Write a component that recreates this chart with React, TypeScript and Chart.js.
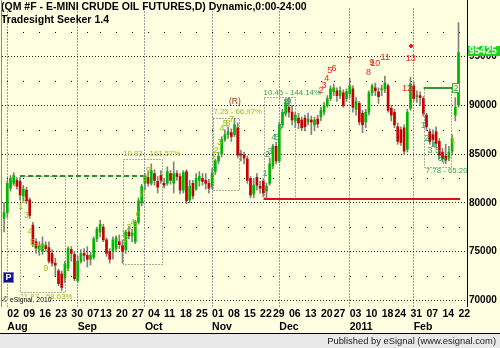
import React, { useEffect, useRef } from 'react';
import { Chart, registerables } from 'chart.js';

Chart.register(...registerables);

// ---------- data (prices in 1/1000 $, as shown on the axis) ----------
const FIRST_INDEX = -1; // first candle is one trading day before "02 Aug"

const opens = [
  78400, 79000, 81500, 82000, 82300, 82200, 80700, 81300, 80300, 77700, 76000,
  75200, 75000, 75600, 75400, 74800, 73800, 73000, 72700, 72300, 73300,
  75200, 74700, 72000, 74000, 74800, 74600, 74200, 74400, 76300, 77000,
  77500, 76200, 75000, 75000, 75300, 76000, 75600, 75200, 77000, 76600,
  76000, 78000, 80000, 82000, 82600, 82000, 83000, 82200, 82800, 82000,
  82000, 83000, 82000, 83000, 82700, 81300, 83200, 80300, 82000, 81400,
  82300, 82500, 82300, 82000, 81700, 83200, 84300, 85000, 86500, 87000,
  87200, 87000, 87700, 85000, 84900, 84500, 82500, 80900, 82600, 81700,
  82200, 81200, 82000, 83800, 85800, 84300, 88000, 89200, 89800, 89300,
  88400, 88700, 88500, 88700, 88300, 88500, 88000, 88600, 88800, 89300,
  90000, 90700, 91400, 91500, 91000, 91300, 90700, 91200, 91700, 89600,
  90200, 89200, 88300, 89300, 91300, 91800, 91400, 91600, 91700, 92000,
  89700, 89300, 87800, 87500, 87700, 85500, 89700, 92000, 90900, 91000,
  90700, 89000, 87300, 87000, 87300, 86300, 85200, 84800, 84600, 85300,
  89000, 90000,
];
const highs = [
  80000, 82300, 82800, 83100, 82600, 82600, 81800, 81600, 80500, 78000, 76300,
  76000, 76500, 76000, 76000, 75200, 74300, 73200, 73000, 74000, 75500,
  75500, 75000, 74500, 75200, 75300, 75500, 74900, 76500, 77500, 78200,
  77800, 76400, 75300, 76500, 76600, 76700, 76200, 77200, 77600, 77300,
  78200, 80500, 81900, 83000, 83200, 84000, 83400, 82700, 83300, 82500,
  83700, 83300, 84200, 83300, 83000, 83300, 83400, 82300, 82300, 83000,
  83200, 83000, 83000, 82400, 83500, 84500, 85200, 86800, 87500, 87800,
  87600, 88700, 88200, 85400, 85200, 84800, 82700, 82500, 83000, 82200,
  82500, 82000, 84600, 86000, 86200, 88300, 89600, 90700, 90800, 90000,
  89300, 89200, 88800, 89000, 89200, 88900, 88800, 89000, 89800, 90300,
  91000, 92000, 92200, 91800, 91900, 91600, 91700, 92800, 92000, 90800,
  90400, 89500, 89600, 91500, 92200, 92300, 91800, 92100, 93000, 92200,
  90000, 89600, 88200, 87800, 88000, 89600, 92900, 92400, 91500, 91400,
  90900, 89200, 87600, 87500, 87800, 86600, 85600, 86000, 85800, 87000,
  90800, 98500,
];
const lows = [
  77000, 78500, 81200, 81800, 81400, 80300, 80200, 79900, 78400, 75500, 74800,
  74600, 74700, 75000, 73800, 73500, 72500, 71500, 71000, 71800, 73000,
  74000, 72000, 71800, 73800, 74000, 73400, 73600, 74200, 76000, 76500,
  76000, 74500, 73800, 74200, 75000, 75300, 73800, 74800, 76300, 76000,
  75800, 77800, 79700, 81300, 81700, 81800, 81800, 81000, 82000, 81500,
  81800, 81900, 81000, 82300, 80900, 81000, 79900, 80000, 80400, 81300,
  81700, 81800, 81400, 81000, 81400, 82900, 84000, 84700, 86300, 86600,
  86300, 86800, 84600, 84300, 84000, 82000, 80500, 80500, 81300, 81000,
  80600, 80500, 81800, 83500, 84000, 84100, 87700, 88900, 88800, 88000,
  87700, 87600, 87400, 87400, 88000, 87000, 87400, 87700, 88400, 89000,
  89800, 90500, 91000, 90400, 90700, 89800, 90400, 90800, 89300, 89000,
  88000, 87200, 87700, 89000, 91000, 91000, 90200, 91000, 91300, 89300,
  88400, 87700, 86000, 85900, 85000, 85200, 89500, 90400, 90300, 90000,
  88900, 87400, 86000, 85800, 85800, 84500, 84200, 84000, 84300, 85000,
  88400, 89800,
];
const closes = [
  79000, 82000, 82500, 82800, 81700, 80800, 81400, 80200, 78700, 75800, 75300,
  75600, 75700, 75300, 74000, 73800, 73600, 71700, 71300, 73700, 75300,
  74800, 72200, 74000, 74800, 74600, 74200, 74600, 76300, 77300, 77800,
  76200, 74800, 74200, 76200, 76400, 75700, 75000, 77000, 76600, 76900,
  78000, 80200, 81700, 82700, 82000, 83300, 82300, 81600, 82300, 81800,
  83200, 82300, 83000, 82700, 81300, 83100, 80200, 81700, 80700, 82500,
  82700, 82200, 82000, 81500, 83000, 84300, 84800, 86500, 87000, 87300,
  86800, 88000, 84900, 84900, 84600, 82300, 80800, 81800, 81800, 81500,
  81000, 81700, 84000, 85800, 84300, 88000, 89300, 90200, 89300, 88500,
  89000, 88200, 87700, 87800, 88600, 88300, 88500, 88100, 89500, 90000,
  90700, 91700, 91800, 91000, 91500, 90000, 91400, 92000, 89800, 90400,
  88300, 88000, 89300, 91300, 92000, 91500, 90900, 91700, 92300, 89500,
  89000, 88000, 86300, 86200, 85300, 89300, 92200, 90700, 91000, 90800,
  89200, 87800, 86300, 86500, 86100, 84900, 84500, 84400, 85200, 86600,
  89800, 95425,
];

const weekTickIndex = [0, 5, 10, 15, 20, 25, 29, 34, 39, 44, 49, 54, 59, 64, 69, 74, 79, 83, 88, 93, 98, 102, 107, 112, 117, 121, 126, 131, 136, 141];
const weekTickLabels = ['02', '09', '16', '23', '30', '07', '13', '20', '27', '04', '11', '18', '25', '01', '08', '15', '22', '29', '06', '13', '20', '27', '03', '10', '18', '24', '31', '07', '14', '22'];
const monthTickIndex = [0, 22, 43, 64, 85, 107, 127];
const monthTickLabels = ['Aug', 'Sep', 'Oct', 'Nov', 'Dec', '2011', 'Feb'];
const priceTicks = [70000, 75000, 80000, 85000, 90000, 95000];
const minorPriceLevels = [72500, 77500, 82500, 87500, 92500, 97500];
const lastPrice = 95425;

// Seeker annotations: [dayIndex, price, text]
const setupLabelsLime: [number, number, string][] = [
  [4.2, 79600, '1'], [5.2, 80200, '2'], [6, 78700, '3'], [7.1, 77000, '4'], [7.9, 75900, '5'],
  [9, 75500, '6'], [10, 75270, '7'], [11, 75500, '8'], [12, 73300, '9'],
  [36.3, 76830, '1'], [37.1, 76270, '2'], [38, 77500, '3'], [39.2, 77930, '4'], [39.9, 77730, '5'],
  [40.9, 78830, '6'], [42, 80900, '7'], [43, 82500, '8'], [44.1, 83270, '9'],
  [64.5, 84930, '1'], [65.2, 85330, '2'], [66.3, 86170, '3'], [67.1, 87670, '4'], [68.1, 88170, '5'],
  [69, 88150, '8'], [70.1, 88600, '7'],
  [139.2, 86400, '1'],
];
const setupLabelsTeal: [number, number, string][] = [
  [80.5, 83000, '1'], [81.3, 84930, '2'], [82.1, 85230, '3'], [83.3, 86670, '4'], [84.2, 86730, '5'],
  [85.2, 87770, '6'], [86.3, 88930, '7'], [87.1, 90270, '8'], [88, 90400, '9'],
  [130, 87930, '1'], [131.1, 86600, '2'], [132.1, 85330, '3'], [133.3, 85900, '4'], [134.4, 85400, '5'],
  [135.2, 84500, '6'], [136.5, 84270, '7'],
];
const countdownLabels: [number, number, string][] = [
  [98, 91570, '2'], [99, 92000, '3'], [99.8, 92730, '4'], [100.8, 93600, '5'], [102.1, 93830, '6'],
  [106.9, 94600, '7'], [112.9, 93330, '8'], [113.9, 94400, '9'], [115.0, 94330, '10'],
  [118.1, 94900, '11'], [124.9, 91730, '12'], [126.1, 94770, '13'],
];
const boxedLabel: [number, number, string] = [140.2, 91770, '2'];
const riskLabel: [number, number, string] = [71.1, 90400, '(R)'];
const perfectionMark: [number, number] = [126.1, 96100];

// [fromIndex, toIndex, topPrice, bottomPrice]
const rangeBoxes: [number, number, number, number][] = [
  [4, 18, 82800, 70800],
  [36.3, 48.2, 84500, 73670],
  [64.2, 72.5, 88730, 81330],
  [80.1, 89.9, 90830, 80350],
  [130.1, 138.6, 91770, 83670],
];
// [index, price, text, useTeal]
const rangeTexts: [number, number, string, boolean][] = [
  [4, 70350, '11.83 - 58.63%', false],
  [36.2, 85000, '10.83 - 161.57%', false],
  [64.4, 89330, '7.25 - 66.97%', false],
  [80.1, 91330, '10.45 - 144.14%', true],
  [130.8, 83330, '7.78 - 65.20%', true],
];
// [fromIndex, toIndex, price]
const tdstLineDashed: [number, number, number] = [4, 44, 82800];
const supportLineRed: [number, number, number] = [80.1, 141.5, 80350];
const tdstLineSolid: [number, number, number] = [130.1, 140.5, 91770];

// ---------- styles ----------
const TITLE_1 = '(QM #F - E-MINI CRUDE OIL FUTURES,D) Dynamic,0:00-24:00';
const TITLE_2 = 'Tradesight Seeker 1.4';
const FOOTER_TEXT = 'Published by eSignal (www.esignal.com)';
const FONT = '"Liberation Sans", Arial, sans-serif';
const PLOT_BG = '#ffffe1';
const FOOTER_BG = '#e9e9e9';
const FOOTER_H = 15;
const UP = '#00b800';
const DOWN = '#c80000';
const WICK = '#808080';
const LIME = '#92c01a';
const TEAL = '#2ea266';
const RED_TXT = '#ff1a1a';
const X_MIN = -1.656;
const X_MAX = 143.656;

const weekLabelAt = new Map(weekTickIndex.map((v, k) => [v, weekTickLabels[k]]));
const monthLabelAt = new Map(monthTickIndex.map((v, k) => [v, monthTickLabels[k]]));

const decorPlugin = {
  id: 'esignalDecor',
  beforeDraw(chart: any) {
    const { ctx, width, height } = chart;
    ctx.save();
    ctx.fillStyle = PLOT_BG;
    ctx.fillRect(0, 0, width, height);
    const fy = height - FOOTER_H;
    ctx.fillStyle = FOOTER_BG;
    ctx.fillRect(0, fy, width, FOOTER_H);
    ctx.fillStyle = '#000';
    ctx.fillRect(0, fy, width, 1);
    ctx.font = `9.4px ${FONT}`;
    ctx.fillStyle = '#222';
    ctx.textAlign = 'right';
    ctx.textBaseline = 'alphabetic';
    ctx.fillText(FOOTER_TEXT, width - 4, height - 4);
    ctx.restore();
  },
  beforeDatasetsDraw(chart: any) {
    const { ctx, chartArea: a, scales } = chart;
    const x = scales.x, y = scales.y;
    ctx.save();
    ctx.beginPath();
    ctx.rect(a.left, a.top, a.right - a.left, a.bottom - a.top);
    ctx.clip();
    ctx.fillStyle = '#000';
    for (const i of weekTickIndex) {
      for (const p of minorPriceLevels) {
        ctx.fillRect(Math.round(x.getPixelForValue(i)), Math.round(y.getPixelForValue(p)), 1, 1);
      }
    }
    ctx.strokeStyle = '#5a5a5a';
    ctx.lineWidth = 1;
    ctx.setLineDash([1, 2]);
    for (const [i0, i1, pt, pb] of rangeBoxes) {
      const x0 = Math.round(x.getPixelForValue(i0)) + 0.5;
      const x1 = Math.round(x.getPixelForValue(i1)) + 0.5;
      const y0 = Math.round(y.getPixelForValue(pt)) + 0.5;
      const y1 = Math.round(y.getPixelForValue(pb)) + 0.5;
      ctx.strokeRect(x0, y0, x1 - x0, y1 - y0);
    }
    ctx.restore();
  },
  afterDatasetsDraw(chart: any) {
    const { ctx, chartArea: a, scales, width } = chart;
    const x = scales.x, y = scales.y;
    const px = (i: number) => x.getPixelForValue(i);
    const py = (p: number) => y.getPixelForValue(p);
    ctx.save();
    ctx.beginPath();
    ctx.rect(a.left, a.top, a.right - a.left, a.bottom - a.top);
    ctx.clip();

    // horizontal levels
    const hline = (seg: [number, number, number], color: string, dash: number[]) => {
      const yy = Math.round(py(seg[2]));
      ctx.strokeStyle = color;
      ctx.lineWidth = 2;
      ctx.setLineDash(dash);
      ctx.beginPath();
      ctx.moveTo(px(seg[0]), yy);
      ctx.lineTo(px(seg[1]), yy);
      ctx.stroke();
    };
    hline(tdstLineDashed, '#2e8b2e', [5, 3]);
    hline(supportLineRed, '#e01010', []);
    hline(tdstLineSolid, '#2f9a2f', []);
    ctx.setLineDash([]);

    // numbers
    ctx.textAlign = 'center';
    ctx.textBaseline = 'middle';
    ctx.font = `9px ${FONT}`;
    ctx.fillStyle = LIME;
    for (const [i, p, t] of setupLabelsLime) ctx.fillText(t, px(i), py(p));
    ctx.fillStyle = TEAL;
    for (const [i, p, t] of setupLabelsTeal) ctx.fillText(t, px(i), py(p));
    ctx.fillStyle = RED_TXT;
    for (const [i, p, t] of countdownLabels) ctx.fillText(t, px(i), py(p));
    ctx.fillStyle = '#a8302a';
    ctx.font = `8.5px ${FONT}`;
    ctx.fillText(riskLabel[2], px(riskLabel[0]), py(riskLabel[1]));

    // boxed "2"
    {
      const bx = px(boxedLabel[0]), by = py(boxedLabel[1]);
      ctx.fillStyle = PLOT_BG;
      ctx.fillRect(Math.round(bx) - 3, Math.round(by) - 4, 7, 9);
      ctx.strokeStyle = '#38a838';
      ctx.lineWidth = 1;
      ctx.strokeRect(Math.round(bx) - 3.5, Math.round(by) - 4.5, 7, 9);
      ctx.fillStyle = '#2f9a2f';
      ctx.font = `9px ${FONT}`;
      ctx.fillText(boxedLabel[2], bx, by + 0.5);
    }

    // perfection mark
    {
      const mx = Math.round(px(perfectionMark[0])), my = Math.round(py(perfectionMark[1]));
      ctx.fillStyle = '#ff1010';
      ctx.fillRect(mx - 1, my - 2, 2, 4);
      ctx.fillRect(mx - 2, my - 1, 4, 2);
    }

    // range texts
    ctx.textAlign = 'left';
    ctx.font = `7.8px ${FONT}`;
    for (const [i, p, t, teal] of rangeTexts) {
      ctx.fillStyle = teal ? TEAL : LIME;
      ctx.fillText(t, px(i), py(p));
    }
    ctx.restore();

    // eSignal copyright + P box
    ctx.save();
    ctx.font = `6.8px ${FONT}`;
    ctx.textAlign = 'left';
    ctx.textBaseline = 'middle';
    ctx.fillStyle = PLOT_BG;
    ctx.fillRect(a.left + 1, a.bottom - 10, 46, 6);
    ctx.fillStyle = '#000';
    ctx.fillText('\u00a9 eSignal, 2010', a.left + 1, a.bottom - 7);
    ctx.fillStyle = '#14148a';
    ctx.fillRect(a.left + 1, a.bottom - 35, 11, 11);
    ctx.strokeStyle = '#7a7ac0';
    ctx.lineWidth = 1;
    ctx.strokeRect(a.left + 1.5, a.bottom - 34.5, 10, 10);
    ctx.fillStyle = '#fff';
    ctx.font = `bold 9px ${FONT}`;
    ctx.textAlign = 'center';
    ctx.fillText('P', a.left + 6.5, a.bottom - 29);

    // title
    ctx.fillStyle = '#000';
    ctx.textAlign = 'left';
    ctx.textBaseline = 'alphabetic';
    ctx.font = `bold 10.5px ${FONT}`;
    ctx.fillText(TITLE_1, 1, 10);
    ctx.fillText(TITLE_2, 1, 23);

    // borders
    ctx.fillStyle = '#000';
    ctx.fillRect(Math.round(a.right), 0, 1, Math.round(a.bottom));
    ctx.fillStyle = '#8a8a8a';
    ctx.fillRect(Math.round(a.left) - 1, 0, 1, Math.round(a.bottom));

    // last price marker
    const ly = py(lastPrice);
    ctx.fillStyle = '#1cd41c';
    ctx.fillRect(Math.round(a.right) + 1, Math.round(ly) - 7, width - Math.round(a.right) - 1, 10);
    ctx.fillStyle = '#ffffff';
    ctx.font = `bold 10px ${FONT}`;
    ctx.textBaseline = 'middle';
    ctx.fillText(String(lastPrice), Math.round(a.right) + 2, Math.round(ly) - 1.5);
    ctx.restore();
  },
};

export default function App() {
  const ref = useRef<HTMLCanvasElement>(null);
  useEffect(() => {
    document.body.style.margin = '0';
    const canvas = ref.current;
    if (!canvas) return;
    const dayIndex = opens.map((_, k) => k + FIRST_INDEX);
    const wickData = dayIndex.map((d, k) => ({ x: d, y: [lows[k], highs[k]] }));
    const bodyData = dayIndex.map((d, k) => ({ x: d, y: [opens[k], closes[k]] }));
    const bodyColors = dayIndex.map((_, k) => (closes[k] >= opens[k] ? UP : DOWN));
    const axisFont = { family: FONT, size: 10.5, weight: 'bold' as const };

    const chart = new Chart(canvas, {
      type: 'bar',
      data: {
        datasets: [
          {
            label: 'wick',
            data: wickData as any,
            backgroundColor: WICK,
            barThickness: 1,
            grouped: false,
            order: 2,
            xAxisID: 'x',
            yAxisID: 'y',
          } as any,
          {
            label: 'body',
            data: bodyData as any,
            backgroundColor: bodyColors,
            barThickness: 2,
            minBarLength: 1,
            grouped: false,
            order: 1,
            xAxisID: 'x',
            yAxisID: 'y',
          } as any,
        ],
      },
      options: {
        responsive: false,
        animation: false,
        devicePixelRatio: 1,
        events: [],
        layout: { padding: { left: 2, right: 0, top: 0, bottom: FOOTER_H } },
        plugins: { legend: { display: false }, tooltip: { enabled: false }, title: { display: false } },
        scales: {
          x: {
            type: 'linear',
            position: 'bottom',
            min: X_MIN,
            max: X_MAX,
            offset: false,
            weight: 0,
            grid: { display: false, drawTicks: false, offset: false },
            border: { display: false },
            ticks: {
              autoSkip: false,
              maxRotation: 0,
              minRotation: 0,
              align: 'start',
              padding: 1,
              color: '#000',
              font: axisFont,
              callback: (v: any) => weekLabelAt.get(v) ?? '',
            },
            afterBuildTicks: (s: any) => { s.ticks = weekTickIndex.map((v) => ({ value: v })); },
            afterFit: (s: any) => { s.height = 13; },
          },
          x2: {
            type: 'linear',
            position: 'bottom',
            min: X_MIN,
            max: X_MAX,
            offset: false,
            weight: 1,
            grid: { display: true, drawOnChartArea: true, drawTicks: false, color: '#9a9a9a', lineWidth: 1, offset: false },
            border: { display: false, dash: [2, 1] },
            ticks: {
              autoSkip: false,
              maxRotation: 0,
              minRotation: 0,
              align: 'start',
              padding: 1,
              color: '#000',
              font: axisFont,
              callback: (v: any) => monthLabelAt.get(v) ?? '',
            },
            afterBuildTicks: (s: any) => { s.ticks = monthTickIndex.map((v) => ({ value: v })); },
            afterFit: (s: any) => { s.height = 13; },
          },
          y: {
            type: 'linear',
            position: 'right',
            min: 69300,
            max: 100000,
            grid: { display: true, drawTicks: false, color: '#222', lineWidth: 1 },
            border: { display: false, dash: [1, 2] },
            ticks: {
              padding: 2,
              color: '#000',
              font: { family: FONT, size: 10, weight: 'bold' },
              callback: (v: any) => String(v),
            },
            afterBuildTicks: (s: any) => { s.ticks = priceTicks.map((v) => ({ value: v })); },
            afterFit: (s: any) => { s.width = 33; },
          },
        } as any,
      },
      plugins: [decorPlugin],
    } as any);
    return () => chart.destroy();
  }, []);
  return <canvas ref={ref} width={500} height={348} style={{ display: 'block', width: '500px', height: '348px' }} />;
}
